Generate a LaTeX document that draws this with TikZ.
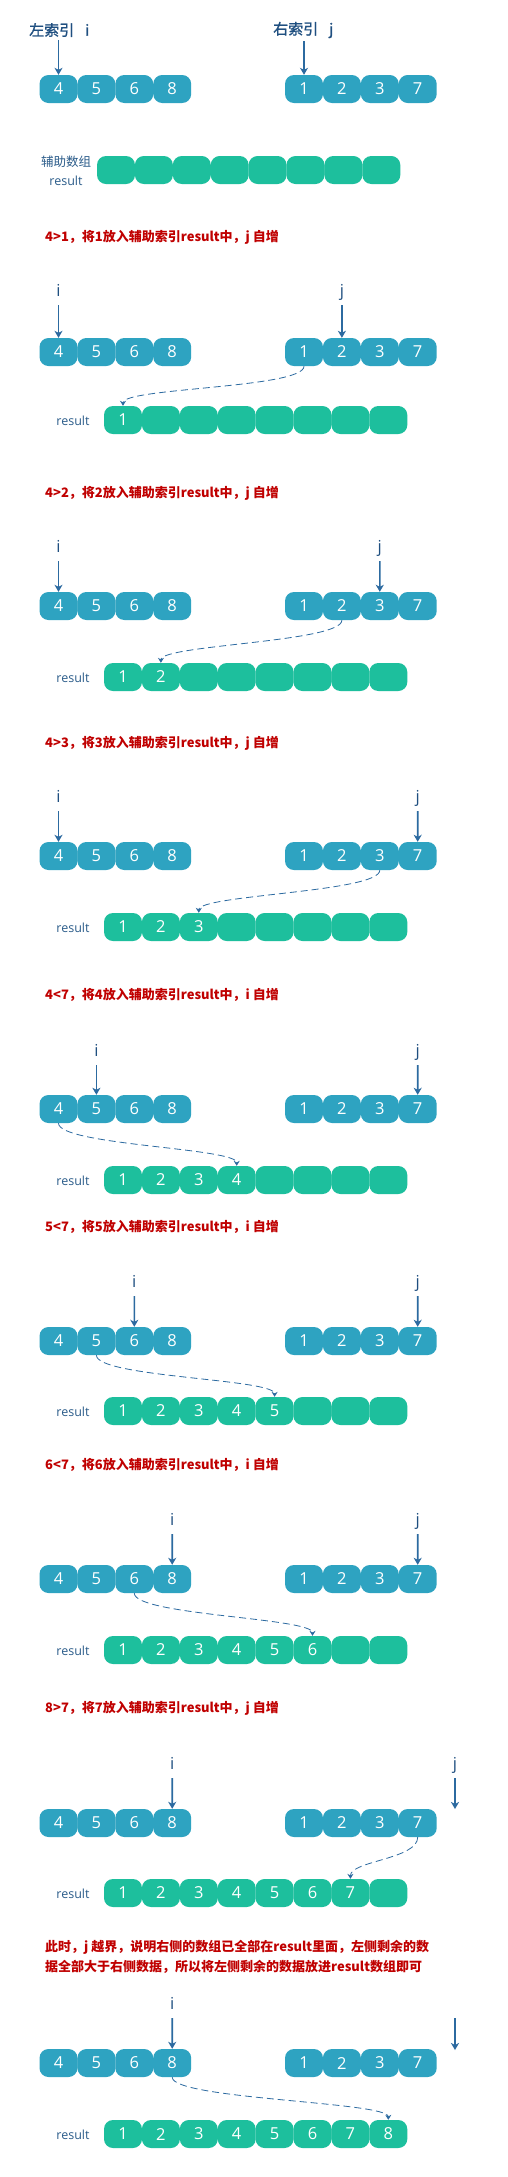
\documentclass[tikz,border=0pt]{standalone}
\usepackage{fontspec}
\setmainfont{Noto Sans CJK SC}
\newfontfamily\latf{Open Sans}
\newfontfamily\cjkmed[FakeBold=1.2]{Noto Sans CJK SC}
\usetikzlibrary{arrows.meta}
\definecolor{boxblue}{HTML}{2EA3C1}
\definecolor{boxgreen}{HTML}{1DBF9D}
\definecolor{arrblue}{HTML}{2C6AA0}
\definecolor{navy}{HTML}{1F4F80}
\definecolor{reslab}{HTML}{2B5C8A}
\definecolor{notered}{HTML}{C00000}
\tikzset{
 cell/.style={rounded corners=9pt, minimum width=38pt, minimum height=28pt, inner sep=0pt, text=white, font=\latf\fontsize{16.5}{16.5}\selectfont},
 lcell/.style={cell, fill=boxblue},
 gcell/.style={cell, fill=boxgreen},
 ptr/.style={draw=arrblue, line width=1.6pt, -{Stealth[length=7pt,width=8pt,inset=2pt]}},
 mv/.style={draw=arrblue, line width=0.8pt, dash pattern=on 7pt off 4pt, -{Stealth[length=5pt,width=6pt]}},
 idx/.style={text=navy, font=\latf\fontsize{16.5}{16.5}\selectfont, inner sep=0pt, text height=12pt, text depth=3pt},
 note/.style={text=notered, font=\bfseries\fontsize{13}{20}\selectfont, inner sep=0pt, anchor=west, align=left},
 rlab/.style={text=reslab, font=\latf\fontsize{12.5}{19}\selectfont, inner sep=0pt, align=center},
 ttl/.style={text=navy, font=\cjkmed\fontsize{15}{15}\selectfont, inner sep=0pt, anchor=west},
}
% #1 panel id, #2 y of arrays
\newcommand\arrays[2]{%
 \foreach \v [count=\k] in {4,5,6,8} \node[lcell] (L#1-\k) at ({58.5+37.9*(\k-1)},#2) {\v};
 \foreach \v [count=\k] in {1,2,3,7} \node[lcell] (R#1-\k) at ({304+37.9*(\k-1)},#2) {\v};
}
% #1 panel id, #2 x of first, #3 y, #4 filled count
\newcommand\results[4]{%
 \foreach \v [count=\k] in {1,2,3,4,5,6,7,8} \node[gcell] (G#1-\k) at ({#2+37.9*(\k-1)},#3) {\ifnum\k>#4\relax\else\v\fi};
}
\begin{document}
\begin{tikzpicture}[x=1pt,y=-1pt]
\fill[white] (0,0) rectangle (507,2177);
\useasboundingbox (0,0) rectangle (507,2177);

% ---------- panel 0 ----------
\node[ttl] (tl) at (29,30) {左索引\hspace{11pt}i};
\node[ttl] (tr) at (273,30) {右索引\hspace{11pt}j};
\arrays{0}{89}
\results{0}{116}{170}{0}
\node[rlab] (rl0) at (66,171) {{\rmfamily 辅助数组}\\result};
\draw[ptr, shorten <=3pt] (tl.south -| L0-1.north) -- (L0-1.north);
\draw[ptr, shorten <=3pt] (tr.south -| R0-1.north) -- (R0-1.north);

% ---------- panel 1 ----------
\node[note] (n1) at (45,237) {4>1，将1放入辅助索引result中，j 自增};
\arrays{1}{352}
\results{1}{123}{420}{1}
\node[rlab] (rl1) at (73,421) {result};
\node[idx] (i1) at (58.5,291.5) {i};
\node[idx] (j1) at (341.9,291.5) {j};
\draw[ptr, shorten <=6pt] (i1.south) -- (L1-1.north);
\draw[ptr, shorten <=6pt] (j1.south) -- (R1-2.north);
\draw[mv] (R1-1.south) .. controls +(0,22) and +(0,-18) .. (G1-1.north);

% ---------- panel 2 ----------
\node[note] (n2) at (45,493) {4>2，将2放入辅助索引result中，j 自增};
\arrays{2}{606}
\results{2}{123}{677}{2}
\node[rlab] (rl2) at (73,678) {result};
\node[idx] (i2) at (58.5,547.5) {i};
\node[idx] (j2) at (379.8,547.5) {j};
\draw[ptr, shorten <=6pt] (i2.south) -- (L2-1.north);
\draw[ptr, shorten <=6pt] (j2.south) -- (R2-3.north);
\draw[mv] (R2-2.south) .. controls +(0,22) and +(0,-18) .. (G2-2.north);

% ---------- panel 3 ----------
\node[note] (n3) at (45,743) {4>3，将3放入辅助索引result中，j 自增};
\arrays{3}{856}
\results{3}{123}{927}{3}
\node[rlab] (rl3) at (73,928) {result};
\node[idx] (i3) at (58.5,797.5) {i};
\node[idx] (j3) at (417.7,797.5) {j};
\draw[ptr, shorten <=6pt] (i3.south) -- (L3-1.north);
\draw[ptr, shorten <=6pt] (j3.south) -- (R3-4.north);
\draw[mv] (R3-3.south) .. controls +(0,22) and +(0,-18) .. (G3-3.north);

% ---------- panel 4 ----------
\node[note] (n4) at (45,995) {4<7，将4放入辅助索引result中，i 自增};
\arrays{4}{1109}
\results{4}{123}{1180}{4}
\node[rlab] (rl4) at (73,1181) {result};
\node[idx] (i4) at (96.4,1051.5) {i};
\node[idx] (j4) at (417.7,1051.5) {j};
\draw[ptr, shorten <=6pt] (i4.south) -- (L4-2.north);
\draw[ptr, shorten <=6pt] (j4.south) -- (R4-4.north);
\draw[mv] (L4-1.south) .. controls +(0,22) and +(0,-18) .. (G4-4.north);

% ---------- panel 5 ----------
\node[note] (n5) at (45,1227) {5<7，将5放入辅助索引result中，i 自增};
\arrays{5}{1341}
\results{5}{123}{1411}{5}
\node[rlab] (rl5) at (73,1412) {result};
\node[idx] (i5) at (134.3,1282.5) {i};
\node[idx] (j5) at (417.7,1282.5) {j};
\draw[ptr, shorten <=6pt] (i5.south) -- (L5-3.north);
\draw[ptr, shorten <=6pt] (j5.south) -- (R5-4.north);
\draw[mv] (L5-2.south) .. controls +(0,22) and +(0,-18) .. (G5-5.north);

% ---------- panel 6 ----------
\node[note] (n6) at (45,1465) {6<7，将6放入辅助索引result中，i 自增};
\arrays{6}{1579}
\results{6}{123}{1650}{6}
\node[rlab] (rl6) at (73,1651) {result};
\node[idx] (i6) at (172.2,1520.5) {i};
\node[idx] (j6) at (417.7,1520.5) {j};
\draw[ptr, shorten <=6pt] (i6.south) -- (L6-4.north);
\draw[ptr, shorten <=6pt] (j6.south) -- (R6-4.north);
\draw[mv] (L6-3.south) .. controls +(0,22) and +(0,-18) .. (G6-6.north);

% ---------- panel 7 ----------
\node[note] (n7) at (45,1708) {8>7，将7放入辅助索引result中，j 自增};
\arrays{7}{1823}
\results{7}{123}{1893}{7}
\node[rlab] (rl7) at (73,1894) {result};
\node[idx] (i7) at (172.2,1764.5) {i};
\node[idx] (j7) at (455,1764.5) {j};
\coordinate (e7) at (455,1809);
\draw[ptr, shorten <=6pt] (i7.south) -- (L7-4.north);
\draw[ptr, shorten <=6pt] (j7.south) -- (e7);
\draw[mv] (R7-4.south) .. controls +(0,22) and +(0,-18) .. (G7-7.north);

% ---------- panel 8 ----------
\node[note] (n8) at (45,1957) {此时，j 越界，说明右侧的数组已全部在result里面，左侧剩余的数\\据全部大于右侧数据，所以将左侧剩余的数据放进result数组即可};
\arrays{8}{2063}
\results{8}{123}{2134}{8}
\node[rlab] (rl8) at (73,2135) {result};
\node[idx] (i8) at (172.2,2004.5) {i};
\coordinate (s8) at (455,2018);
\coordinate (e8) at (455,2050);
\draw[ptr, shorten <=6pt] (i8.south) -- (L8-4.north);
\draw[ptr] (s8) -- (e8);
\draw[mv] (L8-4.south) .. controls +(0,22) and +(0,-18) .. (G8-8.north);
\end{tikzpicture}
\end{document}
